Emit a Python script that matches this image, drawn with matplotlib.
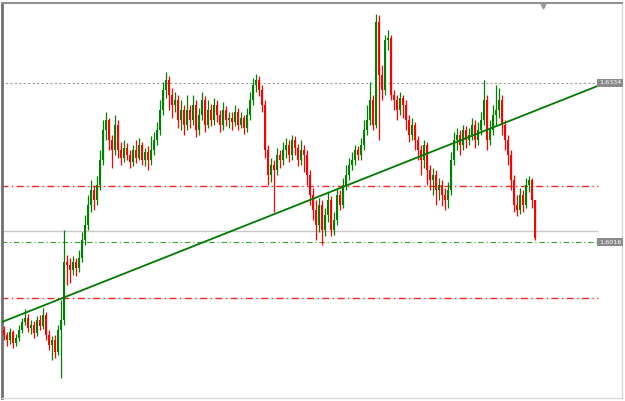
import matplotlib
matplotlib.use("Agg")
import matplotlib.pyplot as plt
import numpy as np

# candle data, one value per bar
close = [1.5830, 1.5820, 1.5836, 1.5814, 1.5824, 1.5840, 1.5856, 1.5864, 1.5844, 1.5850,
         1.5834, 1.5860, 1.5848, 1.5870, 1.5830, 1.5810, 1.5820, 1.5796, 1.5840, 1.5860,
         1.5976, 1.5970, 1.5960, 1.5976, 1.5964, 1.5984, 1.6020, 1.6050, 1.6090, 1.6120,
         1.6100, 1.6130, 1.6180, 1.6240, 1.6260, 1.6220, 1.6200, 1.6250, 1.6200, 1.6184,
         1.6204, 1.6190, 1.6176, 1.6200, 1.6184, 1.6210, 1.6180, 1.6196, 1.6180, 1.6200,
         1.6220, 1.6240, 1.6280, 1.6320, 1.6340, 1.6310, 1.6290, 1.6300, 1.6260, 1.6280,
         1.6250, 1.6280, 1.6260, 1.6290, 1.6240, 1.6270, 1.6300, 1.6250, 1.6280, 1.6260,
         1.6290, 1.6270, 1.6250, 1.6280, 1.6260, 1.6264, 1.6256, 1.6276, 1.6250, 1.6264,
         1.6244, 1.6270, 1.6300, 1.6330, 1.6340, 1.6320, 1.6290, 1.6200, 1.6150, 1.6170,
         1.6160, 1.6190, 1.6180, 1.6200, 1.6210, 1.6190, 1.6220, 1.6204, 1.6180, 1.6200,
         1.6190, 1.6150, 1.6110, 1.6080, 1.6050, 1.6090, 1.6040, 1.6070, 1.6100, 1.6040,
         1.6060, 1.6110, 1.6090, 1.6130, 1.6150, 1.6170, 1.6180, 1.6200, 1.6190, 1.6210,
         1.6240, 1.6260, 1.6300, 1.6250, 1.6456, 1.6350, 1.6320, 1.6420, 1.6424, 1.6310,
         1.6300, 1.6280, 1.6304, 1.6290, 1.6260, 1.6230, 1.6250, 1.6220, 1.6200, 1.6180,
         1.6210, 1.6160, 1.6140, 1.6150, 1.6120, 1.6130, 1.6110, 1.6100, 1.6120, 1.6180,
         1.6220, 1.6230, 1.6210, 1.6240, 1.6220, 1.6230, 1.6250, 1.6220, 1.6240, 1.6260,
         1.6300, 1.6220, 1.6240, 1.6270, 1.6280, 1.6300, 1.6250, 1.6220, 1.6190, 1.6140,
         1.6090, 1.6080, 1.6110, 1.6090, 1.6130, 1.6140, 1.6100, 1.6024]
high = [1.5848, 1.5836, 1.5844, 1.5840, 1.5832, 1.5850, 1.5864, 1.5882, 1.5872, 1.5860,
        1.5858, 1.5868, 1.5870, 1.5884, 1.5876, 1.5840, 1.5828, 1.5830, 1.5850, 1.5900,
        1.6040, 1.5990, 1.5984, 1.5988, 1.5984, 1.6000, 1.6036, 1.6070, 1.6110, 1.6140,
        1.6130, 1.6148, 1.6200, 1.6260, 1.6276, 1.6264, 1.6230, 1.6270, 1.6260, 1.6216,
        1.6220, 1.6214, 1.6200, 1.6210, 1.6220, 1.6224, 1.6216, 1.6204, 1.6208, 1.6228,
        1.6236, 1.6256, 1.6300, 1.6336, 1.6356, 1.6348, 1.6324, 1.6316, 1.6310, 1.6300,
        1.6290, 1.6310, 1.6290, 1.6310, 1.6300, 1.6284, 1.6316, 1.6308, 1.6300, 1.6292,
        1.6304, 1.6300, 1.6280, 1.6296, 1.6288, 1.6276, 1.6276, 1.6290, 1.6284, 1.6276,
        1.6270, 1.6284, 1.6316, 1.6344, 1.6352, 1.6348, 1.6330, 1.6300, 1.6210, 1.6184,
        1.6180, 1.6204, 1.6200, 1.6216, 1.6224, 1.6220, 1.6230, 1.6228, 1.6212, 1.6220,
        1.6210, 1.6200, 1.6160, 1.6124, 1.6100, 1.6104, 1.6100, 1.6084, 1.6116, 1.6108,
        1.6076, 1.6124, 1.6120, 1.6144, 1.6170, 1.6184, 1.6196, 1.6210, 1.6208, 1.6224,
        1.6260, 1.6290, 1.6336, 1.6310, 1.6472, 1.6470, 1.6370, 1.6430, 1.6440, 1.6430,
        1.6320, 1.6310, 1.6316, 1.6310, 1.6300, 1.6270, 1.6264, 1.6256, 1.6228, 1.6210,
        1.6220, 1.6216, 1.6170, 1.6164, 1.6160, 1.6144, 1.6140, 1.6124, 1.6136, 1.6196,
        1.6236, 1.6244, 1.6240, 1.6250, 1.6248, 1.6244, 1.6264, 1.6260, 1.6256, 1.6276,
        1.6340, 1.6310, 1.6260, 1.6290, 1.6330, 1.6324, 1.6310, 1.6260, 1.6230, 1.6200,
        1.6150, 1.6110, 1.6124, 1.6120, 1.6144, 1.6148, 1.6144, 1.6100]
low = [1.5820, 1.5808, 1.5812, 1.5804, 1.5808, 1.5818, 1.5834, 1.5850, 1.5836, 1.5832,
       1.5824, 1.5828, 1.5840, 1.5842, 1.5820, 1.5800, 1.5780, 1.5784, 1.5790, 1.5744,
       1.5850, 1.5930, 1.5934, 1.5950, 1.5948, 1.5956, 1.5976, 1.6010, 1.6040, 1.6076,
       1.6080, 1.6090, 1.6120, 1.6170, 1.6220, 1.6200, 1.6164, 1.6190, 1.6184, 1.6170,
       1.6176, 1.6180, 1.6164, 1.6168, 1.6174, 1.6180, 1.6170, 1.6168, 1.6160, 1.6170,
       1.6190, 1.6210, 1.6230, 1.6270, 1.6304, 1.6280, 1.6264, 1.6276, 1.6244, 1.6240,
       1.6230, 1.6240, 1.6244, 1.6250, 1.6226, 1.6230, 1.6260, 1.6236, 1.6244, 1.6248,
       1.6250, 1.6256, 1.6236, 1.6240, 1.6248, 1.6244, 1.6240, 1.6248, 1.6240, 1.6244,
       1.6232, 1.6236, 1.6260, 1.6290, 1.6316, 1.6308, 1.6276, 1.6184, 1.6130, 1.6136,
       1.6076, 1.6150, 1.6164, 1.6170, 1.6184, 1.6176, 1.6180, 1.6190, 1.6168, 1.6170,
       1.6156, 1.6130, 1.6090, 1.6060, 1.6020, 1.6036, 1.6010, 1.6028, 1.6056, 1.6028,
       1.6030, 1.6050, 1.6080, 1.6084, 1.6120, 1.6140, 1.6160, 1.6170, 1.6180, 1.6180,
       1.6200, 1.6230, 1.6250, 1.6240, 1.6244, 1.6220, 1.6300, 1.6310, 1.6400, 1.6300,
       1.6280, 1.6260, 1.6270, 1.6264, 1.6240, 1.6216, 1.6220, 1.6200, 1.6180, 1.6150,
       1.6164, 1.6130, 1.6120, 1.6110, 1.6090, 1.6100, 1.6088, 1.6080, 1.6084, 1.6110,
       1.6170, 1.6200, 1.6190, 1.6200, 1.6204, 1.6210, 1.6220, 1.6204, 1.6210, 1.6230,
       1.6250, 1.6200, 1.6210, 1.6230, 1.6250, 1.6264, 1.6230, 1.6200, 1.6170, 1.6120,
       1.6076, 1.6068, 1.6072, 1.6076, 1.6084, 1.6116, 1.6084, 1.6020]
first_open = 1.5840

# horizontal levels and trend line
level_top = 1.6334      # grey dotted, labelled
level_red_hi = 1.6128   # red dash-dot
level_bid = 1.6038      # light grey solid
level_green = 1.6016    # green dash-dot, labelled
level_red_lo = 1.5904   # red dash-dot
trend_x = [-0.67, 198.7]
trend_y = [1.5856, 1.6330]

close = np.array(close)
high = np.array(high)
low = np.array(low)
opn = np.concatenate([[first_open], close[:-1]])
high = np.maximum(high, np.maximum(opn, close))
low = np.minimum(low, np.minimum(opn, close))
x = np.arange(len(close))
up = close >= opn

fig = plt.figure(figsize=(6.25, 4.01), dpi=100)
fig.patch.set_facecolor("white")
ax = fig.add_axes([2 / 625, 3 / 401, 620 / 625, 395 / 401])
ax.set_xlim(-0.67, 206)
ax.set_ylim(1.5704, 1.6494)
ax.set_xticks([])
ax.set_yticks([])
ax.spines["left"].set_color("#707070")
ax.spines["left"].set_linewidth(2)
ax.spines["top"].set_color("#909090")
ax.spines["top"].set_linewidth(1.5)
for side in ["right", "bottom"]:
    ax.spines[side].set_color("#d8d8d8")
    ax.spines[side].set_linewidth(1)

xe = 198
ax.hlines(level_top, -1, xe, colors="#a0a0a0", linestyles=(0, (2, 2)), lw=0.8)
ax.hlines([level_red_hi, level_red_lo], -1, xe, colors="#ff2020",
          linestyles=(0, (5, 2.5, 1, 2.5)), lw=1.0)
ax.hlines(level_bid, -1, xe, colors="#c8c8c8", lw=1.0)
ax.hlines(level_green, -1, xe, colors="#33a833", linestyles=(0, (5, 2.5, 1, 2.5)), lw=0.8)

# candles
cols = np.where(up, "#008000", "#ff0000")
ax.vlines(x, low, high, colors=cols, lw=0.9, zorder=3)
body = np.abs(close - opn)
body = np.maximum(body, 0.0002)
ax.bar(x, body, bottom=np.minimum(opn, close), width=0.6, color=cols, lw=0, zorder=3)

ax.plot(trend_x, trend_y, color="#007a00", lw=1.3, zorder=4)

# price labels on the right
for lvl in [level_top, level_green]:
    ax.text(0.981, lvl, f"{lvl:.4f}", transform=ax.get_yaxis_transform(),
            ha="center", va="center", fontsize=4.6, color="white",
            bbox=dict(boxstyle="square,pad=0.3", fc="#8a8a8a", ec="none"), zorder=5)

ax.plot([0.872], [0.992], marker="v", ms=3.5, color="#9a9a9a",
        transform=ax.transAxes, clip_on=False)

fig.savefig("out.png", dpi=100, facecolor="white")
